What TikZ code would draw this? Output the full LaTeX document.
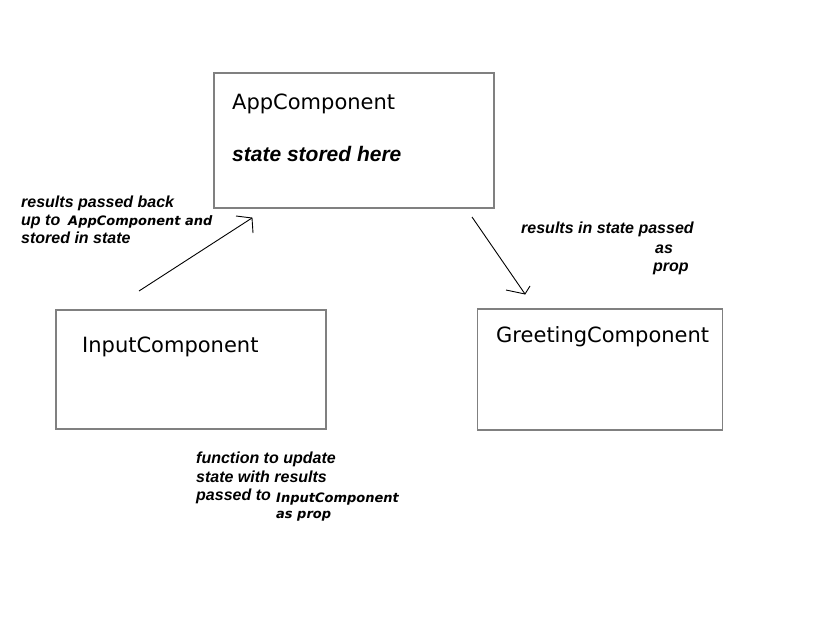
\documentclass[tikz,border=0pt]{standalone}
\usepackage{fontspec}
\setmainfont{DejaVu Sans}
\newfontfamily\notefont{Liberation Sans}
\newcommand\compref[1]{{\normalfont\bfseries\itshape\fontsize{13}{15}\selectfont #1}}
\begin{document}
\begin{tikzpicture}[x=1pt,y=-1pt,
    compbox/.style={draw=black!50, line width=1.5pt, inner sep=0pt},
    compname/.style={anchor=base west, inner sep=0pt, font=\fontsize{21}{25}\selectfont},
    note/.style={anchor=base west, inner sep=0pt, font=\notefont\bfseries\itshape\fontsize{16}{19}\selectfont},
    flow/.style={line width=0.9pt, line join=miter}]
  \useasboundingbox (0,0) rectangle (818,631);
  % components
  \node[compbox, minimum width=280pt, minimum height=135pt] (app) at (354,140.5) {};
  \node[compbox, minimum width=270pt, minimum height=119pt] (input) at (191,369.5) {};
  \node[compbox, minimum width=245pt, minimum height=121pt] (greeting) at (600,369.5) {};
  \node[compname] (appname) at (232,110) {AppComponent};
  \node[note, font=\notefont\bfseries\itshape\fontsize{21}{25}\selectfont] (appstate) at (232,161) {state stored here};
  \node[compname] (inputname) at (82,352) {InputComponent};
  \node[compname] (greetname) at (496,342) {GreetingComponent};
  % data flow, heads drawn by hand
  \coordinate (upstart) at (139,291);
  \coordinate (upend) at (252,218);
  \coordinate (upbarbl) at (236,216);
  \coordinate (upbarbr) at (253,233);
  \coordinate (downstart) at (472,217);
  \coordinate (downend) at (525,294);
  \coordinate (downbarbl) at (506,290);
  \coordinate (downbarbr) at (530,286);
  \draw[flow] (upstart) -- (upend);
  \draw[flow] (upbarbl) -- (upend) -- (upbarbr);
  \draw[flow] (downstart) -- (downend);
  \draw[flow] (downbarbl) -- (downend) -- (downbarbr);
  % notes
  \node[note] (up1) at (21,207) {results passed back};
  \node[note] (up2) at (21,225) {up to};
  \node[note] (up2b) at (68,225) {\compref{AppComponent and}};
  \node[note] (up3) at (21,243) {stored in state};
  \node[note] (down1) at (521,233) {results in state passed};
  \node[note] (down2) at (655,253) {as};
  \node[note] (down3) at (653,271) {prop};
  \node[note] (fn1) at (196,463) {function to update};
  \node[note] (fn2) at (196,482) {state with results};
  \node[note] (fn3) at (196,500) {passed to};
  \node[note] (fn3b) at (276,502) {\compref{InputComponent}};
  \node[note] (fn4) at (276,518) {\compref{as prop}};
\end{tikzpicture}
\end{document}
